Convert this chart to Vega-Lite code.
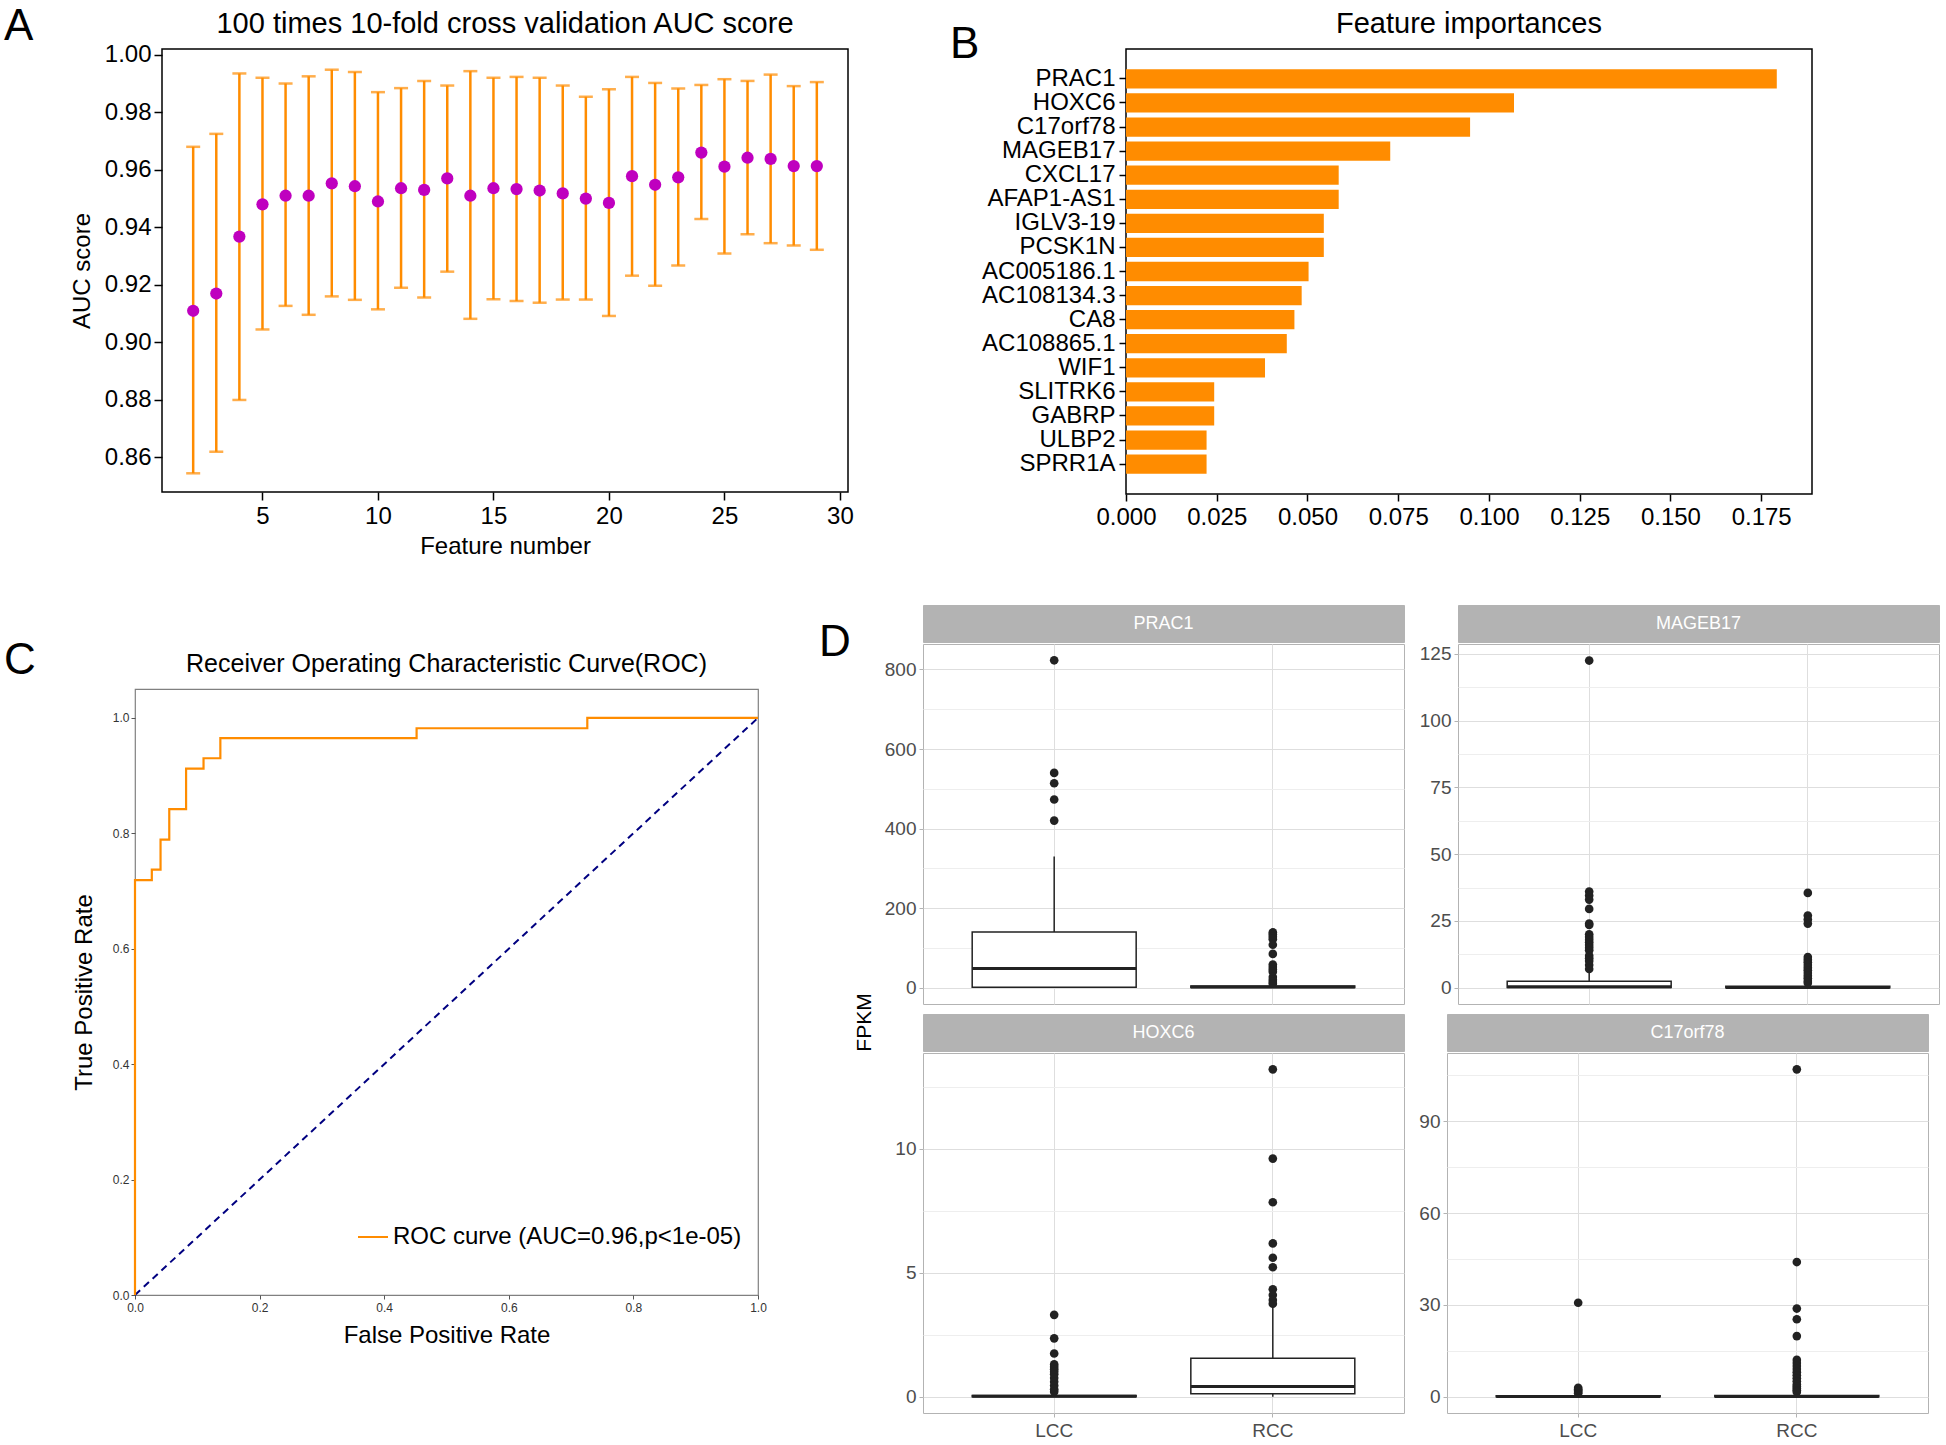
{
  "$schema": "https://vega.github.io/schema/vega-lite/v6.json",
  "background": "white",
  "padding": {"left": 4, "top": 4, "right": 0, "bottom": 0},
  "config": {
    "font": "Liberation Sans",
    "view": {"stroke": null},
    "title": {"fontWeight": "normal", "color": "black"},
    "axis": {"titleFontWeight": "normal", "labelColor": "black", "titleColor": "black", "labelOverlap": false, "labelFlush": false}
  },
  "datasets": {
    "auc": [
      {"n": 2, "mean": 0.911, "lo": 0.8545, "hi": 0.968},
      {"n": 3, "mean": 0.917, "lo": 0.862, "hi": 0.9725},
      {"n": 4, "mean": 0.9368, "lo": 0.88, "hi": 0.9935},
      {"n": 5, "mean": 0.948, "lo": 0.9045, "hi": 0.992},
      {"n": 6, "mean": 0.951, "lo": 0.9127, "hi": 0.99},
      {"n": 7, "mean": 0.951, "lo": 0.9096, "hi": 0.9925},
      {"n": 8, "mean": 0.9553, "lo": 0.916, "hi": 0.9948},
      {"n": 9, "mean": 0.9543, "lo": 0.9148, "hi": 0.994},
      {"n": 10, "mean": 0.949, "lo": 0.9115, "hi": 0.987},
      {"n": 11, "mean": 0.9536, "lo": 0.919, "hi": 0.9884},
      {"n": 12, "mean": 0.953, "lo": 0.9156, "hi": 0.9909},
      {"n": 13, "mean": 0.957, "lo": 0.9246, "hi": 0.9893},
      {"n": 14, "mean": 0.951, "lo": 0.9082, "hi": 0.9943},
      {"n": 15, "mean": 0.9536, "lo": 0.915, "hi": 0.992},
      {"n": 16, "mean": 0.9533, "lo": 0.9144, "hi": 0.9923},
      {"n": 17, "mean": 0.9528, "lo": 0.9138, "hi": 0.992},
      {"n": 18, "mean": 0.9518, "lo": 0.9149, "hi": 0.9893},
      {"n": 19, "mean": 0.95, "lo": 0.9149, "hi": 0.9854},
      {"n": 20, "mean": 0.9485, "lo": 0.9092, "hi": 0.988},
      {"n": 21, "mean": 0.9578, "lo": 0.9232, "hi": 0.9923},
      {"n": 22, "mean": 0.9548, "lo": 0.9197, "hi": 0.9902},
      {"n": 23, "mean": 0.9574, "lo": 0.9267, "hi": 0.9883},
      {"n": 24, "mean": 0.966, "lo": 0.9429, "hi": 0.9895},
      {"n": 25, "mean": 0.9611, "lo": 0.9309, "hi": 0.9915},
      {"n": 26, "mean": 0.9642, "lo": 0.9376, "hi": 0.9909},
      {"n": 27, "mean": 0.9638, "lo": 0.9345, "hi": 0.9931},
      {"n": 28, "mean": 0.9613, "lo": 0.9337, "hi": 0.9891},
      {"n": 29, "mean": 0.9613, "lo": 0.9322, "hi": 0.9905}
    ],
    "imp": [
      {"gene": "PRAC1", "imp": 0.1793},
      {"gene": "HOXC6", "imp": 0.1069},
      {"gene": "C17orf78", "imp": 0.0948},
      {"gene": "MAGEB17", "imp": 0.0728},
      {"gene": "CXCL17", "imp": 0.0586},
      {"gene": "AFAP1-AS1", "imp": 0.0586},
      {"gene": "IGLV3-19", "imp": 0.0545},
      {"gene": "PCSK1N", "imp": 0.0545},
      {"gene": "AC005186.1", "imp": 0.0503},
      {"gene": "AC108134.3", "imp": 0.0484},
      {"gene": "CA8", "imp": 0.0464},
      {"gene": "AC108865.1", "imp": 0.0443},
      {"gene": "WIF1", "imp": 0.0383},
      {"gene": "SLITRK6", "imp": 0.0243},
      {"gene": "GABRP", "imp": 0.0243},
      {"gene": "ULBP2", "imp": 0.0222},
      {"gene": "SPRR1A", "imp": 0.0222}
    ],
    "roc": [
      {"order": 0, "fpr": 0, "tpr": 0, "label": "ROC curve (AUC=0.96,p<1e-05)"},
      {"order": 1, "fpr": 0, "tpr": 0.719, "label": "ROC curve (AUC=0.96,p<1e-05)"},
      {"order": 2, "fpr": 0.027, "tpr": 0.719, "label": "ROC curve (AUC=0.96,p<1e-05)"},
      {"order": 3, "fpr": 0.027, "tpr": 0.737, "label": "ROC curve (AUC=0.96,p<1e-05)"},
      {"order": 4, "fpr": 0.041, "tpr": 0.737, "label": "ROC curve (AUC=0.96,p<1e-05)"},
      {"order": 5, "fpr": 0.041, "tpr": 0.789, "label": "ROC curve (AUC=0.96,p<1e-05)"},
      {"order": 6, "fpr": 0.055, "tpr": 0.789, "label": "ROC curve (AUC=0.96,p<1e-05)"},
      {"order": 7, "fpr": 0.055, "tpr": 0.842, "label": "ROC curve (AUC=0.96,p<1e-05)"},
      {"order": 8, "fpr": 0.082, "tpr": 0.842, "label": "ROC curve (AUC=0.96,p<1e-05)"},
      {"order": 9, "fpr": 0.082, "tpr": 0.912, "label": "ROC curve (AUC=0.96,p<1e-05)"},
      {"order": 10, "fpr": 0.11, "tpr": 0.912, "label": "ROC curve (AUC=0.96,p<1e-05)"},
      {"order": 11, "fpr": 0.11, "tpr": 0.93, "label": "ROC curve (AUC=0.96,p<1e-05)"},
      {"order": 12, "fpr": 0.137, "tpr": 0.93, "label": "ROC curve (AUC=0.96,p<1e-05)"},
      {"order": 13, "fpr": 0.137, "tpr": 0.965, "label": "ROC curve (AUC=0.96,p<1e-05)"},
      {"order": 14, "fpr": 0.452, "tpr": 0.965, "label": "ROC curve (AUC=0.96,p<1e-05)"},
      {"order": 15, "fpr": 0.452, "tpr": 0.982, "label": "ROC curve (AUC=0.96,p<1e-05)"},
      {"order": 16, "fpr": 0.726, "tpr": 0.982, "label": "ROC curve (AUC=0.96,p<1e-05)"},
      {"order": 17, "fpr": 0.726, "tpr": 1.0, "label": "ROC curve (AUC=0.96,p<1e-05)"},
      {"order": 18, "fpr": 1.0, "tpr": 1.0, "label": "ROC curve (AUC=0.96,p<1e-05)"}
    ],
    "diag": [
      {"fpr": 0, "tpr": 0},
      {"fpr": 1, "tpr": 1}
    ],
    "boxes": [
      {"gene": "PRAC1", "group": "LCC", "lo": 0, "q1": 1, "med": 48, "q3": 140, "hi": 330},
      {"gene": "PRAC1", "group": "RCC", "lo": 0, "q1": 0.5, "med": 1.5, "q3": 4, "hi": 9},
      {"gene": "MAGEB17", "group": "LCC", "lo": 0, "q1": 0.05, "med": 0.4, "q3": 2.4, "hi": 5.5},
      {"gene": "MAGEB17", "group": "RCC", "lo": 0, "q1": 0, "med": 0.1, "q3": 0.5, "hi": 1.2},
      {"gene": "HOXC6", "group": "LCC", "lo": 0, "q1": 0, "med": 0.02, "q3": 0.05, "hi": 0.12},
      {"gene": "HOXC6", "group": "RCC", "lo": 0, "q1": 0.12, "med": 0.41, "q3": 1.55, "hi": 3.66},
      {"gene": "C17orf78", "group": "LCC", "lo": 0, "q1": 0, "med": 0.05, "q3": 0.3, "hi": 0.7},
      {"gene": "C17orf78", "group": "RCC", "lo": 0, "q1": 0, "med": 0.05, "q3": 0.4, "hi": 1.0}
    ],
    "outliers": [
      {"gene": "PRAC1", "group": "LCC", "value": 823},
      {"gene": "PRAC1", "group": "LCC", "value": 540},
      {"gene": "PRAC1", "group": "LCC", "value": 514},
      {"gene": "PRAC1", "group": "LCC", "value": 473},
      {"gene": "PRAC1", "group": "LCC", "value": 420},
      {"gene": "PRAC1", "group": "RCC", "value": 139},
      {"gene": "PRAC1", "group": "RCC", "value": 134},
      {"gene": "PRAC1", "group": "RCC", "value": 128},
      {"gene": "PRAC1", "group": "RCC", "value": 122},
      {"gene": "PRAC1", "group": "RCC", "value": 108},
      {"gene": "PRAC1", "group": "RCC", "value": 85},
      {"gene": "PRAC1", "group": "RCC", "value": 58},
      {"gene": "PRAC1", "group": "RCC", "value": 52},
      {"gene": "PRAC1", "group": "RCC", "value": 46},
      {"gene": "PRAC1", "group": "RCC", "value": 40},
      {"gene": "PRAC1", "group": "RCC", "value": 27},
      {"gene": "PRAC1", "group": "RCC", "value": 20},
      {"gene": "PRAC1", "group": "RCC", "value": 14},
      {"gene": "PRAC1", "group": "RCC", "value": 10},
      {"gene": "MAGEB17", "group": "LCC", "value": 122.5},
      {"gene": "MAGEB17", "group": "LCC", "value": 36},
      {"gene": "MAGEB17", "group": "LCC", "value": 34.5},
      {"gene": "MAGEB17", "group": "LCC", "value": 33},
      {"gene": "MAGEB17", "group": "LCC", "value": 29.5},
      {"gene": "MAGEB17", "group": "LCC", "value": 24},
      {"gene": "MAGEB17", "group": "LCC", "value": 23.5},
      {"gene": "MAGEB17", "group": "LCC", "value": 20},
      {"gene": "MAGEB17", "group": "LCC", "value": 19},
      {"gene": "MAGEB17", "group": "LCC", "value": 18},
      {"gene": "MAGEB17", "group": "LCC", "value": 17},
      {"gene": "MAGEB17", "group": "LCC", "value": 16},
      {"gene": "MAGEB17", "group": "LCC", "value": 15},
      {"gene": "MAGEB17", "group": "LCC", "value": 14},
      {"gene": "MAGEB17", "group": "LCC", "value": 12},
      {"gene": "MAGEB17", "group": "LCC", "value": 11},
      {"gene": "MAGEB17", "group": "LCC", "value": 10},
      {"gene": "MAGEB17", "group": "LCC", "value": 8.5},
      {"gene": "MAGEB17", "group": "LCC", "value": 7},
      {"gene": "MAGEB17", "group": "RCC", "value": 35.5},
      {"gene": "MAGEB17", "group": "RCC", "value": 27},
      {"gene": "MAGEB17", "group": "RCC", "value": 25.5},
      {"gene": "MAGEB17", "group": "RCC", "value": 24},
      {"gene": "MAGEB17", "group": "RCC", "value": 11.5},
      {"gene": "MAGEB17", "group": "RCC", "value": 10.5},
      {"gene": "MAGEB17", "group": "RCC", "value": 9.5},
      {"gene": "MAGEB17", "group": "RCC", "value": 8.5},
      {"gene": "MAGEB17", "group": "RCC", "value": 7.5},
      {"gene": "MAGEB17", "group": "RCC", "value": 6.5},
      {"gene": "MAGEB17", "group": "RCC", "value": 5.5},
      {"gene": "MAGEB17", "group": "RCC", "value": 4.5},
      {"gene": "MAGEB17", "group": "RCC", "value": 3.5},
      {"gene": "MAGEB17", "group": "RCC", "value": 2.5},
      {"gene": "MAGEB17", "group": "RCC", "value": 1.8},
      {"gene": "HOXC6", "group": "LCC", "value": 3.3},
      {"gene": "HOXC6", "group": "LCC", "value": 2.35},
      {"gene": "HOXC6", "group": "LCC", "value": 1.74},
      {"gene": "HOXC6", "group": "LCC", "value": 1.3},
      {"gene": "HOXC6", "group": "LCC", "value": 1.2},
      {"gene": "HOXC6", "group": "LCC", "value": 1.1},
      {"gene": "HOXC6", "group": "LCC", "value": 1.0},
      {"gene": "HOXC6", "group": "LCC", "value": 0.9},
      {"gene": "HOXC6", "group": "LCC", "value": 0.75},
      {"gene": "HOXC6", "group": "LCC", "value": 0.6},
      {"gene": "HOXC6", "group": "LCC", "value": 0.45},
      {"gene": "HOXC6", "group": "LCC", "value": 0.3},
      {"gene": "HOXC6", "group": "LCC", "value": 0.2},
      {"gene": "HOXC6", "group": "RCC", "value": 13.2},
      {"gene": "HOXC6", "group": "RCC", "value": 9.6},
      {"gene": "HOXC6", "group": "RCC", "value": 7.84},
      {"gene": "HOXC6", "group": "RCC", "value": 6.18},
      {"gene": "HOXC6", "group": "RCC", "value": 5.6},
      {"gene": "HOXC6", "group": "RCC", "value": 5.22},
      {"gene": "HOXC6", "group": "RCC", "value": 4.33},
      {"gene": "HOXC6", "group": "RCC", "value": 4.1},
      {"gene": "HOXC6", "group": "RCC", "value": 3.9},
      {"gene": "HOXC6", "group": "RCC", "value": 3.75},
      {"gene": "C17orf78", "group": "LCC", "value": 30.7},
      {"gene": "C17orf78", "group": "LCC", "value": 2.9},
      {"gene": "C17orf78", "group": "LCC", "value": 2.4},
      {"gene": "C17orf78", "group": "LCC", "value": 2.0},
      {"gene": "C17orf78", "group": "LCC", "value": 1.5},
      {"gene": "C17orf78", "group": "LCC", "value": 1.1},
      {"gene": "C17orf78", "group": "RCC", "value": 107},
      {"gene": "C17orf78", "group": "RCC", "value": 44},
      {"gene": "C17orf78", "group": "RCC", "value": 28.8},
      {"gene": "C17orf78", "group": "RCC", "value": 25.3},
      {"gene": "C17orf78", "group": "RCC", "value": 19.8},
      {"gene": "C17orf78", "group": "RCC", "value": 12},
      {"gene": "C17orf78", "group": "RCC", "value": 11},
      {"gene": "C17orf78", "group": "RCC", "value": 10},
      {"gene": "C17orf78", "group": "RCC", "value": 9},
      {"gene": "C17orf78", "group": "RCC", "value": 8},
      {"gene": "C17orf78", "group": "RCC", "value": 7},
      {"gene": "C17orf78", "group": "RCC", "value": 6},
      {"gene": "C17orf78", "group": "RCC", "value": 5},
      {"gene": "C17orf78", "group": "RCC", "value": 4},
      {"gene": "C17orf78", "group": "RCC", "value": 3.3},
      {"gene": "C17orf78", "group": "RCC", "value": 2.7},
      {"gene": "C17orf78", "group": "RCC", "value": 2.1},
      {"gene": "C17orf78", "group": "RCC", "value": 1.5}
    ]
  },
  "spacing": 40,
  "vconcat": [
    {
      "spacing": 95,
      "hconcat": [
        {
          "spacing": 35,
          "hconcat": [
            {"width": 29, "height": 1, "title": {"text": "A", "fontSize": 44, "anchor": "start", "offset": -5}, "data": {"values": [{"letter": "A"}]}, "mark": {"type": "text", "text": ""}},
            {
              "width": 686,
              "height": 443,
              "title": {"text": "100 times 10-fold cross validation AUC score", "fontSize": 29, "offset": 4},
              "view": {"stroke": "black", "strokeWidth": 1.5},
              "data": {"name": "auc"},
              "encoding": {
                "x": {"field": "n", "type": "quantitative", "scale": {"domain": [0.65, 30.35], "nice": false, "zero": false},
                  "axis": {"values": [5, 10, 15, 20, 25, 30], "title": "Feature number", "titleFontSize": 24, "labelFontSize": 24, "grid": false, "domain": false, "tickColor": "black", "tickSize": 8, "tickWidth": 1.5, "labelPadding": 4, "titlePadding": 6}}
              },
              "layer": [
                {
                  "mark": {"type": "errorbar", "color": "#FF8C00", "rule": {"strokeWidth": 2.5, "color": "#FF8C00"}, "ticks": {"size": 14, "thickness": 2.5, "color": "#FF8C00"}},
                  "encoding": {
                    "y": {"field": "lo", "type": "quantitative", "scale": {"domain": [0.848, 1.002], "nice": false, "zero": false},
                      "axis": {"values": [0.86, 0.88, 0.9, 0.92, 0.94, 0.96, 0.98, 1.0], "format": ".2f", "title": "AUC score", "titleFontSize": 24, "labelFontSize": 24, "grid": false, "domain": false, "tickColor": "black", "tickSize": 8, "tickWidth": 1.5, "labelPadding": 3, "titlePadding": 10}},
                    "y2": {"field": "hi"}
                  }
                },
                {
                  "mark": {"type": "point", "filled": true, "color": "#BF00BF", "size": 150, "opacity": 1},
                  "encoding": {
                    "y": {"field": "mean", "type": "quantitative", "scale": {"domain": [0.848, 1.002], "nice": false, "zero": false},
                      "axis": {"values": [0.86, 0.88, 0.9, 0.92, 0.94, 0.96, 0.98, 1.0], "format": ".2f", "title": "AUC score", "titleFontSize": 24, "labelFontSize": 24, "grid": false, "domain": false, "tickColor": "black", "tickSize": 8, "tickWidth": 1.5, "labelPadding": 3, "titlePadding": 10}}
                  }
                }
              ]
            }
          ]
        },
        {
          "spacing": 0,
          "hconcat": [
            {"width": 29, "height": 1, "title": {"text": "B", "fontSize": 44, "anchor": "start", "offset": 0, "dy": 23}, "data": {"values": [{"letter": "B"}]}, "mark": {"type": "text", "text": ""}},
            {
              "width": 686,
              "height": 445,
              "title": {"text": "Feature importances", "fontSize": 29, "offset": 10},
              "view": {"stroke": "black", "strokeWidth": 1.5},
              "data": {"name": "imp"},
              "mark": {"type": "bar", "color": "#FF8C00"},
              "encoding": {
                "y": {"field": "gene", "type": "nominal", "sort": null, "scale": {"paddingInner": 0.2, "paddingOuter": 0.84},
                  "axis": {"title": null, "labelFontSize": 24, "tickColor": "black", "tickSize": 7, "tickWidth": 1.5, "domain": false, "labelPadding": 4, "labelLimit": 0}},
                "x": {"field": "imp", "type": "quantitative", "scale": {"domain": [0, 0.189], "nice": false},
                  "axis": {"values": [0, 0.025, 0.05, 0.075, 0.1, 0.125, 0.15, 0.175], "format": ".3f", "title": null, "labelFontSize": 24, "grid": false, "domain": false, "tickColor": "black", "tickSize": 7, "tickWidth": 1.5, "labelPadding": 4}}
              }
            }
          ]
        }
      ]
    },
    {
      "spacing": 52,
      "hconcat": [
        {
          "spacing": 35,
          "hconcat": [
            {"width": 32, "height": 112, "data": {"values": [{"letter": "C"}]}, "mark": {"type": "text", "fontSize": 44, "color": "black"}, "encoding": {"text": {"field": "letter"}}},
            {
              "spacing": 40,
              "resolve": {"scale": {"color": "independent"}, "legend": {"color": "independent"}},
              "vconcat": [
                {"width": 623, "height": 1, "data": {"values": [{"letter": ""}]}, "mark": {"type": "text", "text": ""}},
                {
                  "width": 623,
                  "height": 606,
                  "title": {"text": "Receiver Operating Characteristic Curve(ROC)", "fontSize": 25, "offset": 12},
                  "view": {"stroke": "#808080", "strokeWidth": 1.2},
                  "encoding": {
                    "x": {"field": "fpr", "type": "quantitative", "scale": {"domain": [0, 1], "nice": false},
                      "axis": {"values": [0, 0.2, 0.4, 0.6, 0.8, 1], "format": ".1f", "title": "False Positive Rate", "titleFontSize": 24, "labelFontSize": 12, "labelColor": "#333333", "tickColor": "#555555", "tickSize": 4, "domain": false, "grid": false, "labelPadding": 3, "titlePadding": 10}},
                    "y": {"field": "tpr", "type": "quantitative", "scale": {"domain": [0, 1.05], "nice": false},
                      "axis": {"values": [0, 0.2, 0.4, 0.6, 0.8, 1], "format": ".1f", "title": "True Positive Rate", "titleFontSize": 24, "labelFontSize": 12, "labelColor": "#333333", "tickColor": "#555555", "tickSize": 4, "domain": false, "grid": false, "labelPadding": 2, "titlePadding": 16}}
                  },
                  "layer": [
                    {
                      "data": {"name": "diag"},
                      "mark": {"type": "line", "color": "#000080", "strokeDash": [7, 5], "strokeWidth": 2}
                    },
                    {
                      "data": {"name": "roc"},
                      "mark": {"type": "line", "strokeWidth": 2.2},
                      "encoding": {
                        "order": {"field": "order", "type": "quantitative"},
                        "color": {"field": "label", "type": "nominal", "scale": {"range": ["#FF8C00"]},
                          "legend": {"title": null, "orient": "none", "legendX": 222, "legendY": 532, "symbolType": "stroke", "symbolStrokeWidth": 2, "symbolSize": 900, "labelFontSize": 24, "labelColor": "black", "padding": 0, "labelLimit": 0}}
                      }
                    }
                  ]
                }
              ]
            }
          ]
        },
        {
          "spacing": 2,
          "hconcat": [
            {"width": 32, "height": 76, "data": {"values": [{"letter": "D"}]}, "mark": {"type": "text", "fontSize": 44, "color": "black"}, "encoding": {"text": {"field": "letter"}}},
            {
              "title": {"text": "FPKM", "orient": "left", "anchor": "middle", "fontSize": 21, "offset": 9},
              "spacing": 8,
              "vconcat": [
                {
                  "spacing": 13,
                  "hconcat": [
                    {
                      "spacing": 0,
                      "vconcat": [
                        {"width": 481, "height": 37, "view": {"fill": "#B3B3B3", "stroke": "#B3B3B3"}, "data": {"values": [{"gene": "PRAC1"}]}, "mark": {"type": "text", "color": "white", "fontSize": 18}, "encoding": {"text": {"field": "gene"}}},
                        {
                          "width": 481, "height": 360, "view": {"stroke": "#B3B3B3"},
                          "encoding": {"x": {"field": "group", "type": "nominal", "scale": {"domain": ["LCC", "RCC"], "paddingInner": 0.25, "paddingOuter": 0.225}, "axis": {"title": null, "labels": false, "ticks": false, "domain": false, "grid": true, "gridColor": "#DEDEDE", "bandPosition": 0.5}}},
                          "layer": [
                            {"data": {"name": "boxes"}, "transform": [{"filter": "datum.gene === 'PRAC1'"}], "mark": {"type": "rule", "color": "#222222", "strokeWidth": 1.5},
                              "encoding": {"y": {"field": "lo", "type": "quantitative", "scale": {"domain": [-41, 864], "nice": false, "zero": false}, "axis": {"title": null, "values": [0, 100, 200, 300, 400, 500, 600, 700, 800], "labelExpr": "datum.value % 200 === 0 ? datum.label : ''", "labelFontSize": 19, "labelColor": "#4D4D4D", "labelPadding": 3, "tickSize": 4, "tickColor": "#B3B3B3", "tickOpacity": {"condition": {"test": "datum.value % 200 === 0", "value": 1}, "value": 0}, "domain": false, "grid": true, "gridColor": {"condition": {"test": "datum.value % 200 === 0", "value": "#DEDEDE"}, "value": "#EEEEEE"}}}, "y2": {"field": "hi"}}},
                            {"data": {"name": "boxes"}, "transform": [{"filter": "datum.gene === 'PRAC1'"}], "mark": {"type": "bar", "fill": "white", "stroke": "#222222", "strokeWidth": 1.5},
                              "encoding": {"y": {"field": "q1", "type": "quantitative", "scale": {"domain": [-41, 864], "nice": false, "zero": false}, "axis": {"title": null, "values": [0, 100, 200, 300, 400, 500, 600, 700, 800], "labelExpr": "datum.value % 200 === 0 ? datum.label : ''", "labelFontSize": 19, "labelColor": "#4D4D4D", "labelPadding": 3, "tickSize": 4, "tickColor": "#B3B3B3", "tickOpacity": {"condition": {"test": "datum.value % 200 === 0", "value": 1}, "value": 0}, "domain": false, "grid": true, "gridColor": {"condition": {"test": "datum.value % 200 === 0", "value": "#DEDEDE"}, "value": "#EEEEEE"}}}, "y2": {"field": "q3"}}},
                            {"data": {"name": "boxes"}, "transform": [{"filter": "datum.gene === 'PRAC1'"}], "mark": {"type": "bar", "fill": "white", "stroke": "#222222", "strokeWidth": 3},
                              "encoding": {"y": {"field": "med", "type": "quantitative", "scale": {"domain": [-41, 864], "nice": false, "zero": false}, "axis": {"title": null, "values": [0, 100, 200, 300, 400, 500, 600, 700, 800], "labelExpr": "datum.value % 200 === 0 ? datum.label : ''", "labelFontSize": 19, "labelColor": "#4D4D4D", "labelPadding": 3, "tickSize": 4, "tickColor": "#B3B3B3", "tickOpacity": {"condition": {"test": "datum.value % 200 === 0", "value": 1}, "value": 0}, "domain": false, "grid": true, "gridColor": {"condition": {"test": "datum.value % 200 === 0", "value": "#DEDEDE"}, "value": "#EEEEEE"}}}, "y2": {"field": "med"}}},
                            {"data": {"name": "outliers"}, "transform": [{"filter": "datum.gene === 'PRAC1'"}], "mark": {"type": "circle", "color": "#222222", "size": 75, "opacity": 1},
                              "encoding": {"y": {"field": "value", "type": "quantitative", "scale": {"domain": [-41, 864], "nice": false, "zero": false}, "axis": {"title": null, "values": [0, 100, 200, 300, 400, 500, 600, 700, 800], "labelExpr": "datum.value % 200 === 0 ? datum.label : ''", "labelFontSize": 19, "labelColor": "#4D4D4D", "labelPadding": 3, "tickSize": 4, "tickColor": "#B3B3B3", "tickOpacity": {"condition": {"test": "datum.value % 200 === 0", "value": 1}, "value": 0}, "domain": false, "grid": true, "gridColor": {"condition": {"test": "datum.value % 200 === 0", "value": "#DEDEDE"}, "value": "#EEEEEE"}}}}}
                          ]
                        }
                      ]
                    },
                    {
                      "spacing": 0,
                      "vconcat": [
                        {"width": 481, "height": 37, "view": {"fill": "#B3B3B3", "stroke": "#B3B3B3"}, "data": {"values": [{"gene": "MAGEB17"}]}, "mark": {"type": "text", "color": "white", "fontSize": 18}, "encoding": {"text": {"field": "gene"}}},
                        {
                          "width": 481, "height": 360, "view": {"stroke": "#B3B3B3"},
                          "encoding": {"x": {"field": "group", "type": "nominal", "scale": {"domain": ["LCC", "RCC"], "paddingInner": 0.25, "paddingOuter": 0.225}, "axis": {"title": null, "labels": false, "ticks": false, "domain": false, "grid": true, "gridColor": "#DEDEDE", "bandPosition": 0.5}}},
                          "layer": [
                            {"data": {"name": "boxes"}, "transform": [{"filter": "datum.gene === 'MAGEB17'"}], "mark": {"type": "rule", "color": "#222222", "strokeWidth": 1.5},
                              "encoding": {"y": {"field": "lo", "type": "quantitative", "scale": {"domain": [-6.1, 128.7], "nice": false, "zero": false}, "axis": {"title": null, "values": [0, 12.5, 25, 37.5, 50, 62.5, 75, 87.5, 100, 112.5, 125], "labelExpr": "datum.value % 25 === 0 ? datum.label : ''", "labelFontSize": 19, "labelColor": "#4D4D4D", "labelPadding": 3, "tickSize": 4, "tickColor": "#B3B3B3", "tickOpacity": {"condition": {"test": "datum.value % 25 === 0", "value": 1}, "value": 0}, "domain": false, "grid": true, "gridColor": {"condition": {"test": "datum.value % 25 === 0", "value": "#DEDEDE"}, "value": "#EEEEEE"}}}, "y2": {"field": "hi"}}},
                            {"data": {"name": "boxes"}, "transform": [{"filter": "datum.gene === 'MAGEB17'"}], "mark": {"type": "bar", "fill": "white", "stroke": "#222222", "strokeWidth": 1.5},
                              "encoding": {"y": {"field": "q1", "type": "quantitative", "scale": {"domain": [-6.1, 128.7], "nice": false, "zero": false}, "axis": {"title": null, "values": [0, 12.5, 25, 37.5, 50, 62.5, 75, 87.5, 100, 112.5, 125], "labelExpr": "datum.value % 25 === 0 ? datum.label : ''", "labelFontSize": 19, "labelColor": "#4D4D4D", "labelPadding": 3, "tickSize": 4, "tickColor": "#B3B3B3", "tickOpacity": {"condition": {"test": "datum.value % 25 === 0", "value": 1}, "value": 0}, "domain": false, "grid": true, "gridColor": {"condition": {"test": "datum.value % 25 === 0", "value": "#DEDEDE"}, "value": "#EEEEEE"}}}, "y2": {"field": "q3"}}},
                            {"data": {"name": "boxes"}, "transform": [{"filter": "datum.gene === 'MAGEB17'"}], "mark": {"type": "bar", "fill": "white", "stroke": "#222222", "strokeWidth": 3},
                              "encoding": {"y": {"field": "med", "type": "quantitative", "scale": {"domain": [-6.1, 128.7], "nice": false, "zero": false}, "axis": {"title": null, "values": [0, 12.5, 25, 37.5, 50, 62.5, 75, 87.5, 100, 112.5, 125], "labelExpr": "datum.value % 25 === 0 ? datum.label : ''", "labelFontSize": 19, "labelColor": "#4D4D4D", "labelPadding": 3, "tickSize": 4, "tickColor": "#B3B3B3", "tickOpacity": {"condition": {"test": "datum.value % 25 === 0", "value": 1}, "value": 0}, "domain": false, "grid": true, "gridColor": {"condition": {"test": "datum.value % 25 === 0", "value": "#DEDEDE"}, "value": "#EEEEEE"}}}, "y2": {"field": "med"}}},
                            {"data": {"name": "outliers"}, "transform": [{"filter": "datum.gene === 'MAGEB17'"}], "mark": {"type": "circle", "color": "#222222", "size": 75, "opacity": 1},
                              "encoding": {"y": {"field": "value", "type": "quantitative", "scale": {"domain": [-6.1, 128.7], "nice": false, "zero": false}, "axis": {"title": null, "values": [0, 12.5, 25, 37.5, 50, 62.5, 75, 87.5, 100, 112.5, 125], "labelExpr": "datum.value % 25 === 0 ? datum.label : ''", "labelFontSize": 19, "labelColor": "#4D4D4D", "labelPadding": 3, "tickSize": 4, "tickColor": "#B3B3B3", "tickOpacity": {"condition": {"test": "datum.value % 25 === 0", "value": 1}, "value": 0}, "domain": false, "grid": true, "gridColor": {"condition": {"test": "datum.value % 25 === 0", "value": "#DEDEDE"}, "value": "#EEEEEE"}}}}}
                          ]
                        }
                      ]
                    }
                  ]
                },
                {
                  "spacing": 13,
                  "hconcat": [
                    {
                      "spacing": 0,
                      "vconcat": [
                        {"width": 481, "height": 37, "view": {"fill": "#B3B3B3", "stroke": "#B3B3B3"}, "data": {"values": [{"gene": "HOXC6"}]}, "mark": {"type": "text", "color": "white", "fontSize": 18}, "encoding": {"text": {"field": "gene"}}},
                        {
                          "width": 481, "height": 360, "view": {"stroke": "#B3B3B3"},
                          "encoding": {"x": {"field": "group", "type": "nominal", "scale": {"domain": ["LCC", "RCC"], "paddingInner": 0.25, "paddingOuter": 0.225}, "axis": {"title": null, "labelAngle": 0, "labelFontSize": 19, "labelColor": "#4D4D4D", "labelPadding": 4, "ticks": true, "tickColor": "#B3B3B3", "tickSize": 4, "domain": false, "grid": true, "gridColor": "#DEDEDE", "bandPosition": 0.5}}},
                          "layer": [
                            {"data": {"name": "boxes"}, "transform": [{"filter": "datum.gene === 'HOXC6'"}], "mark": {"type": "rule", "color": "#222222", "strokeWidth": 1.5},
                              "encoding": {"y": {"field": "lo", "type": "quantitative", "scale": {"domain": [-0.66, 13.86], "nice": false, "zero": false}, "axis": {"title": null, "values": [0, 2.5, 5, 7.5, 10, 12.5], "labelExpr": "datum.value % 5 === 0 ? '\u00a0\u00a0' + datum.label : ''", "labelFontSize": 19, "labelColor": "#4D4D4D", "labelPadding": 3, "tickSize": 4, "tickColor": "#B3B3B3", "tickOpacity": {"condition": {"test": "datum.value % 5 === 0", "value": 1}, "value": 0}, "domain": false, "grid": true, "gridColor": {"condition": {"test": "datum.value % 5 === 0", "value": "#DEDEDE"}, "value": "#EEEEEE"}}}, "y2": {"field": "hi"}}},
                            {"data": {"name": "boxes"}, "transform": [{"filter": "datum.gene === 'HOXC6'"}], "mark": {"type": "bar", "fill": "white", "stroke": "#222222", "strokeWidth": 1.5},
                              "encoding": {"y": {"field": "q1", "type": "quantitative", "scale": {"domain": [-0.66, 13.86], "nice": false, "zero": false}, "axis": {"title": null, "values": [0, 2.5, 5, 7.5, 10, 12.5], "labelExpr": "datum.value % 5 === 0 ? '\u00a0\u00a0' + datum.label : ''", "labelFontSize": 19, "labelColor": "#4D4D4D", "labelPadding": 3, "tickSize": 4, "tickColor": "#B3B3B3", "tickOpacity": {"condition": {"test": "datum.value % 5 === 0", "value": 1}, "value": 0}, "domain": false, "grid": true, "gridColor": {"condition": {"test": "datum.value % 5 === 0", "value": "#DEDEDE"}, "value": "#EEEEEE"}}}, "y2": {"field": "q3"}}},
                            {"data": {"name": "boxes"}, "transform": [{"filter": "datum.gene === 'HOXC6'"}], "mark": {"type": "bar", "fill": "white", "stroke": "#222222", "strokeWidth": 3},
                              "encoding": {"y": {"field": "med", "type": "quantitative", "scale": {"domain": [-0.66, 13.86], "nice": false, "zero": false}, "axis": {"title": null, "values": [0, 2.5, 5, 7.5, 10, 12.5], "labelExpr": "datum.value % 5 === 0 ? '\u00a0\u00a0' + datum.label : ''", "labelFontSize": 19, "labelColor": "#4D4D4D", "labelPadding": 3, "tickSize": 4, "tickColor": "#B3B3B3", "tickOpacity": {"condition": {"test": "datum.value % 5 === 0", "value": 1}, "value": 0}, "domain": false, "grid": true, "gridColor": {"condition": {"test": "datum.value % 5 === 0", "value": "#DEDEDE"}, "value": "#EEEEEE"}}}, "y2": {"field": "med"}}},
                            {"data": {"name": "outliers"}, "transform": [{"filter": "datum.gene === 'HOXC6'"}], "mark": {"type": "circle", "color": "#222222", "size": 75, "opacity": 1},
                              "encoding": {"y": {"field": "value", "type": "quantitative", "scale": {"domain": [-0.66, 13.86], "nice": false, "zero": false}, "axis": {"title": null, "values": [0, 2.5, 5, 7.5, 10, 12.5], "labelExpr": "datum.value % 5 === 0 ? '\u00a0\u00a0' + datum.label : ''", "labelFontSize": 19, "labelColor": "#4D4D4D", "labelPadding": 3, "tickSize": 4, "tickColor": "#B3B3B3", "tickOpacity": {"condition": {"test": "datum.value % 5 === 0", "value": 1}, "value": 0}, "domain": false, "grid": true, "gridColor": {"condition": {"test": "datum.value % 5 === 0", "value": "#DEDEDE"}, "value": "#EEEEEE"}}}}}
                          ]
                        }
                      ]
                    },
                    {
                      "spacing": 0,
                      "vconcat": [
                        {"width": 481, "height": 37, "view": {"fill": "#B3B3B3", "stroke": "#B3B3B3"}, "data": {"values": [{"gene": "C17orf78"}]}, "mark": {"type": "text", "color": "white", "fontSize": 18}, "encoding": {"text": {"field": "gene"}}},
                        {
                          "width": 481, "height": 360, "view": {"stroke": "#B3B3B3"},
                          "encoding": {"x": {"field": "group", "type": "nominal", "scale": {"domain": ["LCC", "RCC"], "paddingInner": 0.25, "paddingOuter": 0.225}, "axis": {"title": null, "labelAngle": 0, "labelFontSize": 19, "labelColor": "#4D4D4D", "labelPadding": 4, "ticks": true, "tickColor": "#B3B3B3", "tickSize": 4, "domain": false, "grid": true, "gridColor": "#DEDEDE", "bandPosition": 0.5}}},
                          "layer": [
                            {"data": {"name": "boxes"}, "transform": [{"filter": "datum.gene === 'C17orf78'"}], "mark": {"type": "rule", "color": "#222222", "strokeWidth": 1.5},
                              "encoding": {"y": {"field": "lo", "type": "quantitative", "scale": {"domain": [-5.35, 112.35], "nice": false, "zero": false}, "axis": {"title": null, "values": [0, 15, 30, 45, 60, 75, 90, 105], "labelExpr": "datum.value % 30 === 0 ? '\u00a0\u00a0' + datum.label : ''", "labelFontSize": 19, "labelColor": "#4D4D4D", "labelPadding": 3, "tickSize": 4, "tickColor": "#B3B3B3", "tickOpacity": {"condition": {"test": "datum.value % 30 === 0", "value": 1}, "value": 0}, "domain": false, "grid": true, "gridColor": {"condition": {"test": "datum.value % 30 === 0", "value": "#DEDEDE"}, "value": "#EEEEEE"}}}, "y2": {"field": "hi"}}},
                            {"data": {"name": "boxes"}, "transform": [{"filter": "datum.gene === 'C17orf78'"}], "mark": {"type": "bar", "fill": "white", "stroke": "#222222", "strokeWidth": 1.5},
                              "encoding": {"y": {"field": "q1", "type": "quantitative", "scale": {"domain": [-5.35, 112.35], "nice": false, "zero": false}, "axis": {"title": null, "values": [0, 15, 30, 45, 60, 75, 90, 105], "labelExpr": "datum.value % 30 === 0 ? '\u00a0\u00a0' + datum.label : ''", "labelFontSize": 19, "labelColor": "#4D4D4D", "labelPadding": 3, "tickSize": 4, "tickColor": "#B3B3B3", "tickOpacity": {"condition": {"test": "datum.value % 30 === 0", "value": 1}, "value": 0}, "domain": false, "grid": true, "gridColor": {"condition": {"test": "datum.value % 30 === 0", "value": "#DEDEDE"}, "value": "#EEEEEE"}}}, "y2": {"field": "q3"}}},
                            {"data": {"name": "boxes"}, "transform": [{"filter": "datum.gene === 'C17orf78'"}], "mark": {"type": "bar", "fill": "white", "stroke": "#222222", "strokeWidth": 3},
                              "encoding": {"y": {"field": "med", "type": "quantitative", "scale": {"domain": [-5.35, 112.35], "nice": false, "zero": false}, "axis": {"title": null, "values": [0, 15, 30, 45, 60, 75, 90, 105], "labelExpr": "datum.value % 30 === 0 ? '\u00a0\u00a0' + datum.label : ''", "labelFontSize": 19, "labelColor": "#4D4D4D", "labelPadding": 3, "tickSize": 4, "tickColor": "#B3B3B3", "tickOpacity": {"condition": {"test": "datum.value % 30 === 0", "value": 1}, "value": 0}, "domain": false, "grid": true, "gridColor": {"condition": {"test": "datum.value % 30 === 0", "value": "#DEDEDE"}, "value": "#EEEEEE"}}}, "y2": {"field": "med"}}},
                            {"data": {"name": "outliers"}, "transform": [{"filter": "datum.gene === 'C17orf78'"}], "mark": {"type": "circle", "color": "#222222", "size": 75, "opacity": 1},
                              "encoding": {"y": {"field": "value", "type": "quantitative", "scale": {"domain": [-5.35, 112.35], "nice": false, "zero": false}, "axis": {"title": null, "values": [0, 15, 30, 45, 60, 75, 90, 105], "labelExpr": "datum.value % 30 === 0 ? '\u00a0\u00a0' + datum.label : ''", "labelFontSize": 19, "labelColor": "#4D4D4D", "labelPadding": 3, "tickSize": 4, "tickColor": "#B3B3B3", "tickOpacity": {"condition": {"test": "datum.value % 30 === 0", "value": 1}, "value": 0}, "domain": false, "grid": true, "gridColor": {"condition": {"test": "datum.value % 30 === 0", "value": "#DEDEDE"}, "value": "#EEEEEE"}}}}}
                          ]
                        }
                      ]
                    }
                  ]
                }
              ]
            }
          ]
        }
      ]
    }
  ]
}
